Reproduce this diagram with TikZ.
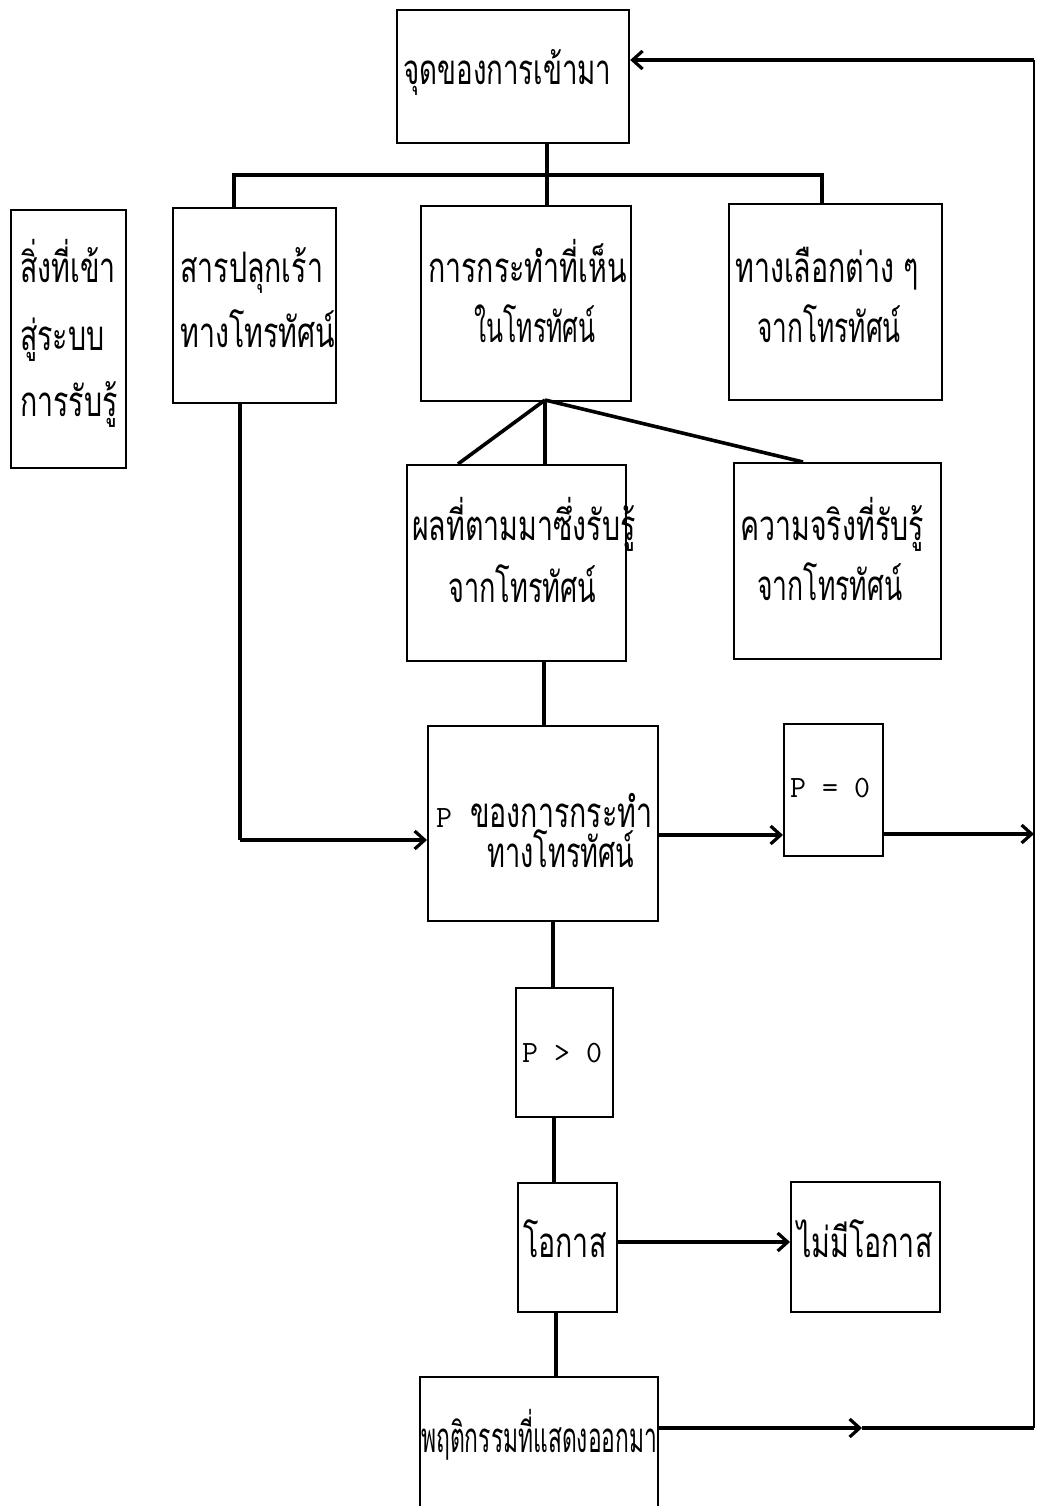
\documentclass[tikz,border=0pt]{standalone}
\usepackage{fontspec}
\usepackage{graphicx}
\newfontfamily\thai[Script=Thai,FakeStretch=0.68]{Loma}
\usetikzlibrary{arrows.meta}
\begin{document}
\begin{tikzpicture}[x=1pt,y=-1pt,
  box/.style={draw, line width=2.2pt, inner sep=0pt, anchor=north west},
  ln/.style={line width=3.6pt},
  arr/.style={line width=3.6pt, -{Straight Barb[length=10pt,width=18pt,line width=3.2pt]}},
  tx/.style={inner sep=0pt, anchor=base west, font=\thai\fontsize{42}{42}\selectfont},
  mx/.style={inner sep=0pt, anchor=base west, font=\ttfamily\fontsize{31}{31}\selectfont}]
\useasboundingbox (0,0) rectangle (1037,1506);
% boxes
\node[box, minimum width=232pt, minimum height=133pt] (top) at (396,9) {};
\node[box, minimum width=115pt, minimum height=258pt] (inp) at (10,209) {};
\node[box, minimum width=163pt, minimum height=195pt] (stim) at (172,207) {};
\node[box, minimum width=210pt, minimum height=195pt] (act) at (420,205) {};
\node[box, minimum width=213pt, minimum height=196pt] (alt) at (728,203) {};
\node[box, minimum width=219pt, minimum height=196pt] (cons) at (406,464) {};
\node[box, minimum width=207pt, minimum height=196pt] (real) at (733,462) {};
\node[box, minimum width=230pt, minimum height=195pt] (pact) at (427,725) {};
\node[box, minimum width=99pt, minimum height=132pt] (pz) at (783,723) {};
\node[box, minimum width=97pt, minimum height=129pt] (pg) at (515,987) {};
\node[box, minimum width=99pt, minimum height=129pt] (opp) at (517,1182) {};
\node[box, minimum width=149pt, minimum height=130pt] (nopp) at (790,1181) {};
\node[box, minimum width=238pt, minimum height=140pt] (beh) at (419,1376) {};
% texts
\node[tx] (t1) at (403,85) {\scalebox{0.97}[1]{จุดของการเข้ามา}};
\node[tx] (t2a) at (20,283) {สิ่งที่เข้า};
\node[tx] (t2b) at (20,350) {สู่ระบบ};
\node[tx] (t2c) at (20,416) {การรับรู้};
\node[tx] (t3a) at (180,282) {สารปลุกเร้า};
\node[tx] (t3b) at (180,347) {ทางโทรทัศน์};
\node[tx] (t4a) at (428,282) {การกระทำที่เห็น};
\node[tx] (t4b) at (474,342) {\scalebox{0.87}[1]{ในโทรทัศน์}};
\node[tx] (t5a) at (735,282) {ทางเลือกต่าง ๆ};
\node[tx] (t5b) at (757,342) {\scalebox{0.92}[1]{จากโทรทัศน์}};
\node[tx] (t6a) at (412,540) {ผลที่ตามมาซึ่งรับรู้};
\node[tx] (t6b) at (448,602) {\scalebox{0.95}[1]{จากโทรทัศน์}};
\node[tx] (t7a) at (740,540) {ความจริงที่รับรู้};
\node[tx] (t7b) at (757,600) {\scalebox{0.93}[1]{จากโทรทัศน์}};
\node[mx] (t8p) at (436,827) {P};
\node[tx] (t8a) at (470,827) {ของการกระทำ};
\node[tx] (t8b) at (487,867) {\scalebox{0.95}[1]{ทางโทรทัศน์}};
\node[mx] (t9) at (790,797) {P = 0};
\node[mx] (t10) at (522,1062) {P > 0};
\node[tx] (t11) at (523,1257) {โอกาส};
\node[tx] (t12) at (797,1257) {ไม่มีโอกาส};
\node[tx] (t13) at (421,1452) {\scalebox{0.8}[1]{พฤติกรรมที่แสดงออกมา}};
% coordinates
\coordinate (b1) at (234,175);
\coordinate (b2) at (547,175);
\coordinate (b3) at (822,175);
\coordinate (a0) at (545,400);
\coordinate (c1) at (458,464);
\coordinate (c2) at (803,462);
\coordinate (s1) at (240,840);
\coordinate (m1) at (862,1428);
\coordinate (r1) at (1034,1428);
\coordinate (r2) at (1034,60);
\coordinate (r3) at (1034,834);
% connectors
\draw[ln] (top.south -| b2) -- (act.north -| b2);
\draw[ln] (stim.north -| b1) -- (b1) -- (b3) -- (alt.north -| b3);
\draw[ln] (a0) -- (c1);
\draw[ln] (a0) -- (cons.north -| a0);
\draw[ln] (a0) -- (c2);
\draw[ln] (cons.south -| 544,0) -- (pact.north -| 544,0);
\draw[line width=4.4pt] (stim.south -| s1) -- (s1);
\draw[arr] (s1) -- (pact.west |- s1);
\draw[arr] (pact.east |- 0,835) -- (pz.west |- 0,835);
\draw[arr] (pz.east |- r3) -- (r3);
\draw[ln] (pact.south -| 553,0) -- (pg.north -| 553,0);
\draw[ln] (pg.south -| 554,0) -- (opp.north -| 554,0);
\draw[arr] (opp.east |- 0,1242) -- (nopp.west |- 0,1242);
\draw[ln] (opp.south -| 556,0) -- (beh.north -| 556,0);
\draw[arr] (beh.east |- m1) -- (m1);
\draw[ln] (m1) -- (r1);
\draw[line width=1.6pt] (r1) -- (r2);
\draw[arr] (r2) -- (top.east |- r2);
\end{tikzpicture}
\end{document}
